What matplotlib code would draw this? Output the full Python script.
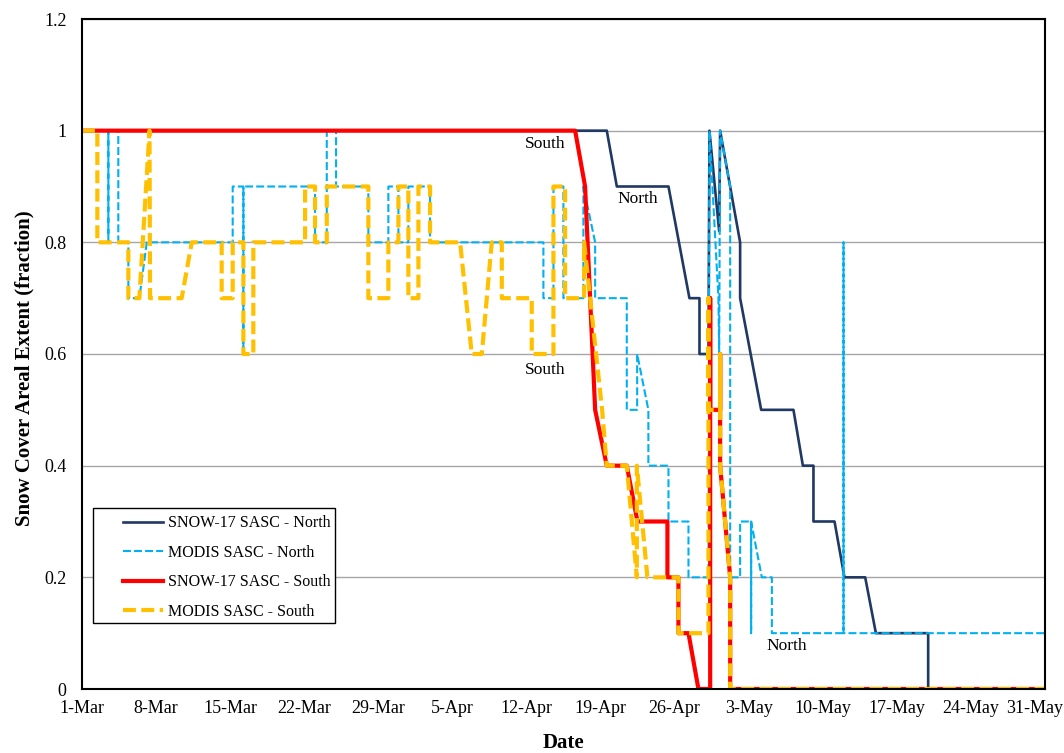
import numpy as np
import pandas as pd
import matplotlib
matplotlib.use("Agg")
import matplotlib.pyplot as plt
import matplotlib.dates as mdates
from matplotlib.ticker import FuncFormatter
from matplotlib.patches import Rectangle
from matplotlib.transforms import ScaledTranslation

# days after 1-Mar
snow_north_day = [0, 49.59, 50.54, 55.42, 57.40, 58.35, 58.35, 59.20, 59.29, 60.21, 60.30,
                  62.19, 62.19, 64.18, 67.23, 68.12, 69.12, 69.12, 71.11, 72.05, 74.01,
                  75.02, 79.96, 79.96, 91]
snow_north_val = [1, 1, 0.9, 0.9, 0.7, 0.7, 0.6, 0.6, 1.0, 0.82, 1.0,
                  0.8, 0.7, 0.5, 0.5, 0.4, 0.4, 0.3, 0.3, 0.2, 0.2,
                  0.1, 0.1, 0.0, 0.0]

modis_north_day = [0, 2.49, 2.49, 2.49, 3.43, 3.43, 4.38, 4.38, 5.42, 6.12,
                   14.24, 14.24, 15.25, 15.25, 15.25, 22.02, 22.02, 23.13, 23.13, 24.01,
                   24.01, 27.06, 27.06, 28.95, 28.95, 29.90, 29.90, 30.84, 30.84, 32.89,
                   32.89, 43.60, 43.60, 44.55, 44.55, 45.49, 45.49, 47.38, 47.38, 48.49,
                   48.49, 51.48, 51.48, 52.46, 52.46, 53.52, 53.52, 55.42, 55.42, 57.31,
                   57.31, 59.20, 59.29, 60.14, 60.21, 60.30, 61.25, 61.25, 62.19, 62.19,
                   63.23, 63.23, 63.23, 64.24, 65.19, 65.19, 71.96, 71.96, 71.96, 91]
modis_north_val = [1, 1, 0.8, 1, 1, 0.8, 0.8, 0.7, 0.7, 0.8,
                   0.8, 0.9, 0.9, 0.6, 0.9, 0.9, 0.8, 0.8, 1.0, 1.0,
                   0.9, 0.9, 0.8, 0.8, 0.9, 0.9, 0.8, 0.8, 0.9, 0.9,
                   0.8, 0.8, 0.7, 0.7, 0.9, 0.9, 0.7, 0.7, 0.9, 0.8,
                   0.7, 0.7, 0.5, 0.5, 0.6, 0.5, 0.4, 0.4, 0.3, 0.3,
                   0.2, 0.2, 1.0, 0.7, 0.6, 1.0, 0.9, 0.2, 0.2, 0.3,
                   0.3, 0.1, 0.3, 0.2, 0.2, 0.1, 0.1, 0.8, 0.1, 0.1]

snow_south_day = [0, 46.60, 47.54, 48.49, 49.59, 51.48, 52.49, 55.32, 55.32, 56.36, 56.36,
                  57.31, 58.25, 59.36, 59.36, 59.36, 60.30, 60.30, 60.30, 61.25, 61.25, 91]
snow_south_val = [1, 1, 0.9, 0.5, 0.4, 0.4, 0.3, 0.3, 0.2, 0.2, 0.1,
                  0.1, 0.0, 0.0, 0.7, 0.5, 0.5, 0.6, 0.4, 0.2, 0.0, 0.0]

modis_south_day = [0, 1.45, 1.45, 4.38, 4.38, 5.42, 6.38, 6.43, 9.42, 10.37,
                   13.20, 13.20, 14.24, 14.24, 15.25, 15.25, 16.19, 16.19, 21.08, 21.08,
                   22.02, 22.02, 23.13, 23.13, 27.06, 27.06, 28.95, 28.95, 29.90, 29.90,
                   30.84, 30.84, 31.79, 31.79, 32.89, 32.89, 35.73, 36.83, 37.78, 38.72,
                   39.67, 39.67, 42.50, 42.50, 44.55, 44.55, 45.65, 45.65, 47.45, 47.45,
                   48.58, 49.15, 49.59, 51.48, 52.43, 52.43, 53.43, 56.36, 56.36, 59.20,
                   59.20, 59.20, 60.30, 60.30, 60.30, 61.25, 61.25, 91]
modis_south_val = [1.0, 1.0, 0.8, 0.8, 0.7, 0.7, 1.0, 0.7, 0.7, 0.8,
                   0.8, 0.7, 0.7, 0.8, 0.8, 0.6, 0.6, 0.8, 0.8, 0.9,
                   0.9, 0.8, 0.8, 0.9, 0.9, 0.7, 0.7, 0.8, 0.8, 0.9,
                   0.9, 0.7, 0.7, 0.9, 0.9, 0.8, 0.8, 0.6, 0.6, 0.8,
                   0.8, 0.7, 0.7, 0.6, 0.6, 0.9, 0.9, 0.7, 0.7, 0.8,
                   0.6, 0.5, 0.4, 0.4, 0.2, 0.4, 0.2, 0.2, 0.1, 0.1,
                   0.7, 0.5, 0.5, 0.6, 0.4, 0.2, 0.0, 0.0]

labels = ["SNOW-17 SASC - North", "MODIS SASC - North",
          "SNOW-17 SASC - South", "MODIS SASC - South"]

plt.rcParams["font.family"] = ["Liberation Serif", "DejaVu Serif"]

start = pd.Timestamp("2013-03-01")


def to_dates(days):
    return start + pd.to_timedelta(np.asarray(days), unit="D")


fig = plt.figure(figsize=(10.64, 7.53), dpi=100)
ax = fig.add_axes([82 / 1064, 1 - 689 / 753, (1045 - 82) / 1064, (689 - 19) / 753])

ax.plot(to_dates(snow_north_day), snow_north_val, color="#1F3864", lw=1.9, label=labels[0])
ax.plot(to_dates(modis_north_day), modis_north_val, color="#00B0F0", lw=1.5,
        linestyle=(0, (3.8, 1.5)), label=labels[1])
ax.plot(to_dates(snow_south_day), snow_south_val, color="#FF0000", lw=3, label=labels[2])
ax.plot(to_dates(modis_south_day), modis_south_val, color="#FFC000", lw=3,
        linestyle=(0, (3.1, 1.3)), label=labels[3])

ax.text(to_dates(43.8), 0.977, "South", ha="center", va="center", fontsize=12.5)
ax.text(to_dates(52.5), 0.878, "North", ha="center", va="center", fontsize=12.5)
ax.text(to_dates(43.8), 0.571, "South", ha="center", va="center", fontsize=12.5)
ax.text(to_dates(66.6), 0.077, "North", ha="center", va="center", fontsize=12.5)

ax.set_xlim(start, start + pd.Timedelta(days=91))
ax.set_ylim(0, 1.2)
ax.set_yticks(np.arange(0, 1.21, 0.2))
ax.yaxis.set_major_formatter(FuncFormatter(lambda v, p: f"{v:g}"))
ax.set_xticks(pd.date_range(start, periods=14, freq="7D"))
ax.xaxis.set_major_formatter(FuncFormatter(
    lambda v, p: f"{mdates.num2date(v).day}-{mdates.num2date(v):%b}"))
ax.tick_params(length=0, labelsize=13)
ax.tick_params(axis="y", pad=11)
ax.tick_params(axis="x", pad=8)
# last date label is pulled in so it stays inside the picture
last = ax.xaxis.get_major_ticks()[-1].label1
last.set_transform(last.get_transform() + ScaledTranslation(-0.10, 0, fig.dpi_scale_trans))

ax.grid(axis="y", color="#A6A6A6", lw=1)
ax.set_axisbelow(True)
for s in ax.spines.values():
    s.set_color("black")
    s.set_linewidth(1.5)

ax.set_xlabel("Date", fontsize=15, fontweight="bold")
ax.set_ylabel("Snow Cover Areal Extent (fraction)", fontsize=15, fontweight="bold")
ax.xaxis.set_label_coords(0.5, -0.066)
ax.yaxis.set_label_coords(-0.049, 0.479)

leg = ax.legend(loc="upper left", bbox_to_anchor=(0.036, 0.269), borderaxespad=0,
                fontsize=11.5, handlelength=2.5, handletextpad=0.3, labelspacing=0.85,
                frameon=False)
leg.set_zorder(6)
ax.add_patch(Rectangle((0.0114, 0.0985), 0.2513, 0.1715, transform=ax.transAxes,
                       facecolor="white", edgecolor="black", lw=1, zorder=5))

fig.savefig("out.png", dpi=100)
